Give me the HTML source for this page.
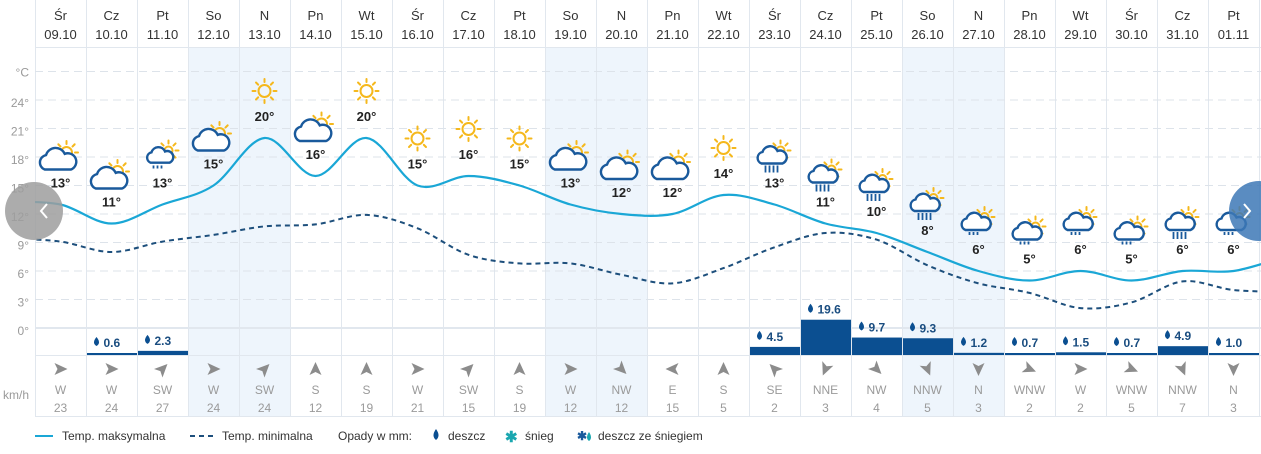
<!DOCTYPE html>
<html><head><meta charset="utf-8"><style>
html,body{margin:0;padding:0;background:#fff;width:1261px;height:454px;overflow:hidden;font-family:"Liberation Sans",sans-serif}
svg text{font-family:"Liberation Sans",sans-serif}
</style></head><body>
<svg id="c" width="1261" height="454" viewBox="0 0 1261 454"></svg>
<script>
const days=["Śr","Cz","Pt","So","N","Pn","Wt","Śr","Cz","Pt","So","N","Pn","Wt","Śr","Cz","Pt","So","N","Pn","Wt","Śr","Cz","Pt"];
const dates=["09.10","10.10","11.10","12.10","13.10","14.10","15.10","16.10","17.10","18.10","19.10","20.10","21.10","22.10","23.10","24.10","25.10","26.10","27.10","28.10","29.10","30.10","31.10","01.11"];
const tmax=[13,11,13,15,20,16,20,15,16,15,13,12,12,14,13,11,10,8,6,5,6,5,6,6];
const tmaxNext=7.5;
const tmin=[9.1,8,9.1,9.8,10.7,10.9,11.9,10.5,7.7,6.8,6.8,5.6,4.7,6.3,8.5,10,9.3,6.6,4.7,3.7,2.1,2.7,4.9,4.0];
const tminNext=3.8;
const icons=["cs","cs","rs","cs","s","cs","s","s","s","s","cs","cs","cs","s","hr","hr","hr","hr","lr","lr","lr","lr","hr","lr"];
const precip=[0,0.6,2.3,0,0,0,0,0,0,0,0,0,0,0,4.5,19.6,9.7,9.3,1.2,0.7,1.5,0.7,4.9,1.0];
const windDir=["W","W","SW","W","SW","S","S","W","SW","S","W","NW","E","S","SE","NNE","NW","NNW","N","WNW","W","WNW","NNW","N"];
const windSpd=[23,24,27,24,24,12,19,21,15,19,12,12,15,5,2,3,4,5,3,2,2,5,7,3];
const yTicks=[0,3,6,9,12,15,18,21,24];

const svg=document.getElementById('c');const NS='http://www.w3.org/2000/svg';
function el(t,a,p){const e=document.createElementNS(NS,t);for(const k in a)e.setAttribute(k,a[k]);(p||svg).appendChild(e);return e;}
const X0=35,CW=51;
const cx=i=>X0+CW*i+CW/2;
const yT=t=>328-9.5*t;
const yP=p=>355-Math.max(2,p*1.8);

days.forEach((d,i)=>{if(d==="So"||d==="N"){const r=el('rect',{x:X0+CW*i,y:47,width:CW,height:369,fill:'#eef5fc'});

}});
for(let i=0;i<=24;i++){el('line',{x1:X0+CW*i+.5,y1:0,x2:X0+CW*i+.5,y2:416,stroke:'#e1e7ee','stroke-width':1});}
el('line',{x1:X0,y1:47.5,x2:1261,y2:47.5,stroke:'#e1e7ee'});
el('line',{x1:X0,y1:416.5,x2:1261,y2:416.5,stroke:'#e1e7ee'});
el('line',{x1:X0,y1:355.5,x2:1261,y2:355.5,stroke:'#e1e7ee'});
el('line',{x1:X0,y1:328,x2:1261,y2:328,stroke:'#e1e7ee','stroke-width':2});
yTicks.forEach(t=>{if(t>0)el('line',{x1:X0,y1:yT(t),x2:1261,y2:yT(t),stroke:'#dde3ea','stroke-dasharray':'8,5'});
const tx=el('text',{x:29,y:yT(t)+7,'text-anchor':'end','font-size':12,fill:'#9a9a9a'});tx.textContent=t+'°';

});
el('line',{x1:X0,y1:yT(27),x2:1261,y2:yT(27),stroke:'#dde3ea','stroke-dasharray':'8,5'});
const cu=el('text',{x:29,y:yT(27)+5,'text-anchor':'end','font-size':12,fill:'#9a9a9a'});cu.textContent='°C';


const kmh=el('text',{x:16,y:399,'text-anchor':'middle','font-size':12,fill:'#9a9a9a'});kmh.textContent='km/h';



days.forEach((d,i)=>{const t1=el('text',{x:cx(i),y:20,'text-anchor':'middle','font-size':13,fill:'#333'});t1.textContent=d;


const t2=el('text',{x:cx(i),y:39,'text-anchor':'middle','font-size':13,fill:'#333'});t2.textContent=dates[i];

});

function smooth(pts){let d='M'+pts[0][0]+','+pts[0][1];for(let i=0;i<pts.length-1;i++){const p0=pts[Math.max(0,i-1)],p1=pts[i],p2=pts[i+1],p3=pts[Math.min(pts.length-1,i+2)];
const c1=[p1[0]+(p2[0]-p0[0])/6,p1[1]+(p2[1]-p0[1])/6],c2=[p2[0]-(p3[0]-p1[0])/6,p2[1]-(p3[1]-p1[1])/6];
d+=' C'+c1[0].toFixed(1)+','+c1[1].toFixed(1)+' '+c2[0].toFixed(1)+','+c2[1].toFixed(1)+' '+p2[0].toFixed(1)+','+p2[1].toFixed(1);}return d;}
function series(arr,next){const p=[[X0-CW/2,yT(arr[0]+0.3)]];arr.forEach((v,i)=>p.push([cx(i),yT(v)]));p.push([cx(arr.length),yT(next)]);return p;}
el('clipPath',{id:'cl'});el('rect',{x:X0,y:0,width:1261-X0,height:454},svg.lastChild);
const minL=el('path',{d:smooth(series(tmin,tminNext)),fill:'none',stroke:'#1d4f7c','stroke-width':2,'stroke-dasharray':'5,4','clip-path':'url(#cl)'});


const maxL=el('path',{d:smooth(series(tmax,tmaxNext)),fill:'none',stroke:'#1aa7d6','stroke-width':2.2,'clip-path':'url(#cl)'});



function sun(g,x,y,r){el('circle',{cx:x,cy:y,r:r,fill:'none',stroke:'#f5b81c','stroke-width':2},g);
for(let k=0;k<8;k++){const a=k*Math.PI/4;el('line',{x1:x+Math.cos(a)*(r+3),y1:y+Math.sin(a)*(r+3),x2:x+Math.cos(a)*(r+6),y2:y+Math.sin(a)*(r+6),stroke:'#f5b81c','stroke-width':2,'stroke-linecap':'round'},g);}}
function cloud(g,x,y,s){el('path',{d:'M-11,8 a6,6 0 0 1 1,-11.5 a8,8 0 0 1 15,-1 a6,6 0 0 1 5,12.5 z',fill:'#fff',stroke:'#1a5a9c','stroke-width':2.4/s,transform:`translate(${x},${y}) scale(${s})`},g);}
icons.forEach((ic,i)=>{const x=cx(i),y=yT(tmax[i])-49;const g=el('g',{});


if(ic==='s'){sun(g,x,y+2,6);}
else if(ic==='cs'){sun(g,x+6,y-3,5.5);cloud(g,x-2,y+4,1.25);}
else{const sm=ic==='rs'?0.9:1.0;sun(g,x+6,y-5,4);cloud(g,x-2,y,sm);
const n=ic==='hr'?4:3;for(let k=0;k<n;k++){el('line',{x1:x-9+k*4,y1:y+10,x2:x-9+k*4,y2:y+(ic==='hr'?17:13),stroke:'#1a5a9c','stroke-width':1.8},g);}}
const t=el('text',{x:x,y:yT(tmax[i])-17,'text-anchor':'middle','font-size':13,'font-weight':'bold',fill:'#222'});t.textContent=tmax[i]+'°';

});

precip.forEach((p,i)=>{if(!p)return;const y=yP(p);
const b=el('rect',{x:X0+CW*i+1,y:y,width:CW-1,height:355-y,fill:'#0b4f91'});


el('path',{d:`M${cx(i)-15},${y-16} q-5,6 0,9 q5,-3 0,-9z`,fill:'#0b4f91'});
const t=el('text',{x:cx(i)-8,y:y-6,'font-size':12,'font-weight':'bold',fill:'#1a4d80'});t.textContent=p.toFixed(1);

});

const ang={N:180,NNE:202.5,NE:225,E:270,SE:315,SSE:337.5,S:0,SW:45,W:90,WNW:112.5,NW:135,NNW:157.5};
windDir.forEach((d,i)=>{const x=cx(i);
const a=el('path',{d:'M0,-7 L6,6 L0,3 L-6,6 Z',fill:'#8c8c8c',transform:`translate(${x},369) rotate(${ang[d]})`});


const t=el('text',{x:x,y:394,'text-anchor':'middle','font-size':12,fill:'#9a9a9a'});t.textContent=d;


const s=el('text',{x:x,y:412,'text-anchor':'middle','font-size':12,fill:'#9a9a9a'});s.textContent=windSpd[i];

});

const lb=el('g',{});
el('circle',{cx:34,cy:211,r:29,fill:'#9e9e9e',opacity:0.85},lb);
el('path',{d:'M47,204 l-6,7 l6,7',fill:'none',stroke:'#fff','stroke-width':2},lb);
const rb=el('g',{});
el('circle',{cx:1259,cy:211,r:30,fill:'#3d78b6',opacity:0.85},rb);
el('path',{d:'M1244,204 l6,7 l-6,7',fill:'none',stroke:'#fff','stroke-width':2},rb);

const lg=el('g',{});
el('line',{x1:35,y1:436,x2:53,y2:436,stroke:'#1aa7d6','stroke-width':2},lg);
el('line',{x1:190,y1:436,x2:213,y2:436,stroke:'#1d4f7c','stroke-width':2,'stroke-dasharray':'5,4'},lg);
function lt(x,s){const t=el('text',{x:x,y:440,'font-size':12,fill:'#333'},lg);t.textContent=s;return t;}
lt(62,'Temp. maksymalna');lt(222,'Temp. minimalna');lt(338,'Opady w mm:');
el('path',{d:'M436,429 q-5,7 0,11 q5,-4 0,-11z',fill:'#0b4f91'},lg);lt(448,'deszcz');
const s1=el('text',{x:505,y:442,'font-size':15,'font-weight':'bold',fill:'#1aa7b0'},lg);s1.textContent='✱';lt(525,'śnieg');
const s2=el('text',{x:577,y:440,'font-size':12,'font-weight':'bold',fill:'#1a5a9c'},lg);s2.textContent='✱';
el('path',{d:'M589,432 q-4,6 0,9 q4,-3 0,-9z',fill:'#1aa7b0'},lg);lt(598,'deszcz ze śniegiem');
</script>
</body></html>
